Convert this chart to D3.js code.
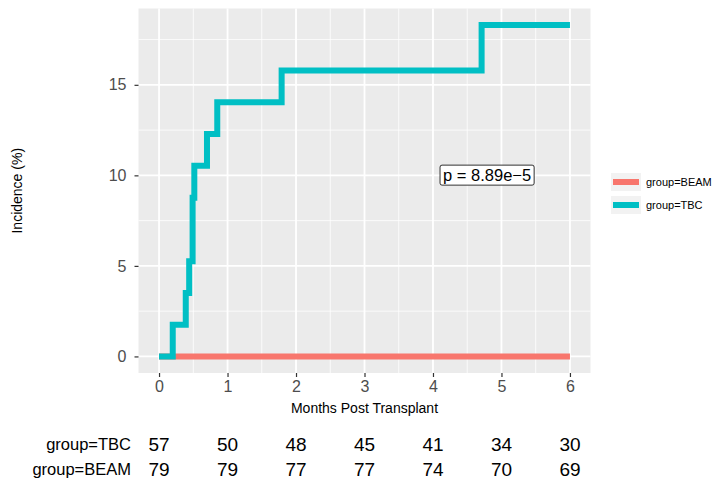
<!DOCTYPE html>
<html><head><meta charset="utf-8">
<script src="https://cdn.jsdelivr.net/npm/d3@7/dist/d3.min.js"></script>
<style>body{margin:0;background:#fff}svg{display:block}text{font-family:"Liberation Sans",Arial,sans-serif}</style>
</head><body><svg id="c" width="715" height="491"></svg>
<script>
const tbcTimes  = [0, 0.20, 0.39, 0.44, 0.49, 0.515, 0.70, 0.85, 1.79, 4.71, 6.0];
const tbcValues = [0, 1.75, 3.51, 5.26, 8.77, 10.53, 12.28, 14.04, 15.79, 18.3, 18.3];
const beamTimes  = [0, 6];
const beamValues = [0, 0];
const xTicks = [0, 1, 2, 3, 4, 5, 6];
const yTicks = [0, 5, 10, 15];
const groups = ["group=BEAM", "group=TBC"];
const colors = ["#F8766D", "#00BFC4"];
const riskTBC  = [57, 50, 48, 45, 41, 34, 30];
const riskBEAM = [79, 79, 77, 77, 74, 70, 69];
const pLabel = "p = 8.89e\u22125";
const pPos = [4.79, 10];

const svg = d3.select("#c");
const L = 138.5, R = 590.5, T = 8.5, B = 373;
const x = d3.scaleLinear().domain([-0.3, 6.3]).range([L, R]);
const y = d3.scaleLinear().domain([-0.915, 19.215]).range([B, T]);

svg.append("rect").attr("x", L).attr("y", T).attr("width", R - L).attr("height", B - T).attr("fill", "#EBEBEB");
const g = svg.append("g");
const xMinor = d3.range(-0.5, 6.6, 1).filter(v => v > -0.3 && v < 6.3);
const yMinor = [2.5, 7.5, 12.5, 17.5];
xMinor.forEach(v => g.append("line").attr("x1", x(v)).attr("x2", x(v)).attr("y1", T).attr("y2", B).attr("stroke", "#fff").attr("stroke-width", 0.8));
yMinor.forEach(v => g.append("line").attr("y1", y(v)).attr("y2", y(v)).attr("x1", L).attr("x2", R).attr("stroke", "#fff").attr("stroke-width", 0.8));
xTicks.forEach(v => g.append("line").attr("x1", x(v)).attr("x2", x(v)).attr("y1", T).attr("y2", B).attr("stroke", "#fff").attr("stroke-width", 1.8));
yTicks.forEach(v => g.append("line").attr("y1", y(v)).attr("y2", y(v)).attr("x1", L).attr("x2", R).attr("stroke", "#fff").attr("stroke-width", 1.8));

const line = d3.line().x(d => x(d[0])).y(d => y(d[1])).curve(d3.curveStepAfter);
svg.append("path").datum(beamTimes.map((t, i) => [t, beamValues[i]]))
  .attr("d", line).attr("fill", "none").attr("stroke", colors[0]).attr("stroke-width", 6);
svg.append("path").datum(tbcTimes.map((t, i) => [t, tbcValues[i]]))
  .attr("d", line).attr("fill", "none").attr("stroke", colors[1]).attr("stroke-width", 6);

const xa = svg.append("g").attr("transform", `translate(0,${B})`)
  .call(d3.axisBottom(x).tickValues(xTicks).tickSize(4).tickPadding(4).tickFormat(d3.format("d")));
const ya = svg.append("g").attr("transform", `translate(${L},0)`)
  .call(d3.axisLeft(y).tickValues(yTicks).tickSize(4).tickPadding(8).tickFormat(d3.format("d")));
[xa, ya].forEach(a => {
  a.select(".domain").remove();
  a.selectAll(".tick line").attr("stroke", "#333").attr("stroke-width", 1.2);
  a.selectAll(".tick text").attr("fill", "#4D4D4D").attr("font-size", 16).style("font-family", "Liberation Sans, Arial, sans-serif");
});

svg.append("text").attr("x", (L + R) / 2).attr("y", 413).attr("text-anchor", "middle")
  .attr("font-size", 14).attr("fill", "#000").text("Months Post Transplant");
svg.append("text").attr("transform", `translate(22,${(T + B) / 2}) rotate(-90)`).attr("text-anchor", "middle")
  .attr("font-size", 14).attr("fill", "#000").text("Incidence (%)");

const pt = svg.append("text").attr("x", x(pPos[0])).attr("y", y(pPos[1])).attr("dy", "0.35em")
  .attr("text-anchor", "middle").attr("font-size", 16.5).attr("fill", "#000").text(pLabel);
const bb = pt.node().getBBox();
svg.insert("rect", () => pt.node()).attr("x", bb.x - 3).attr("y", bb.y - 1).attr("width", bb.width + 6).attr("height", bb.height + 2)
  .attr("rx", 2).attr("fill", "#fff").attr("stroke", "#000").attr("stroke-width", 0.8);

groups.forEach((name, i) => {
  const cy = 182 + i * 23;
  svg.append("rect").attr("x", 611).attr("y", cy - 9).attr("width", 30).attr("height", 18).attr("fill", "#F2F2F2");
  svg.append("line").attr("x1", 613).attr("x2", 639).attr("y1", cy).attr("y2", cy).attr("stroke", colors[i]).attr("stroke-width", 6);
  svg.append("text").attr("x", 646).attr("y", cy).attr("dy", "0.35em").attr("font-size", 11).attr("fill", "#000").text(name);
});

const rows = [["group=TBC", riskTBC, 444], ["group=BEAM", riskBEAM, 469]];
rows.forEach(([name, vals, cy]) => {
  svg.append("text").attr("x", 131).attr("y", cy).attr("dy", "0.35em").attr("text-anchor", "end")
    .attr("font-size", 16.5).attr("fill", "#000").text(name);
  vals.forEach((v, i) => svg.append("text").attr("x", x(xTicks[i])).attr("y", cy).attr("dy", "0.35em")
    .attr("text-anchor", "middle").attr("font-size", 19).attr("fill", "#000").text(v));
});
</script></body></html>
